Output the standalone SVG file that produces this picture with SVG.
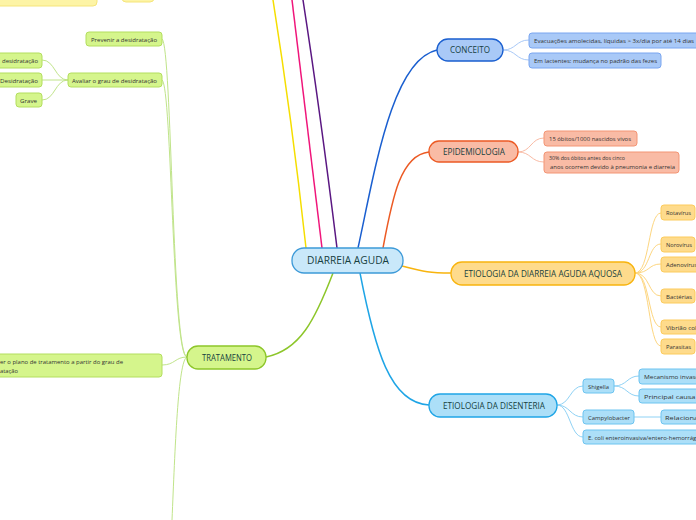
<svg xmlns="http://www.w3.org/2000/svg" width="696" height="520" viewBox="0 0 696 520">
<style>
text{font-family:"Open Sans","Noto Sans","DejaVu Sans",sans-serif;}
.main{font-size:9px;fill:#173f3f;text-anchor:middle;}
.sm{font-size:6px;fill:#333;}
.c{fill:none;stroke-width:1.5;}
.cc{fill:none;stroke-width:1;}
.blue{fill:#a9c9f7;stroke:#1a5fd0;stroke-width:1.3;}
.blueS{fill:#a9c9f7;stroke:#7aa6f0;stroke-width:1;}
.ora{fill:#f9bba5;stroke:#ec5a24;stroke-width:1.3;}
.oraS{fill:#f9bba5;stroke:#f39575;stroke-width:1;}
.yel{fill:#fedb8c;stroke:#f8b40e;stroke-width:1.3;}
.yelS{fill:#fedb8c;stroke:#fccb5c;stroke-width:1;}
.cy{fill:#acdff8;stroke:#1fa5e6;stroke-width:1.3;}
.cyS{fill:#acdff8;stroke:#6cc4f0;stroke-width:1;}
.gr{fill:#d5f58c;stroke:#8dc62a;stroke-width:1.3;}
.grS{fill:#d5f58c;stroke:#b3de5e;stroke-width:1;}
.lem{fill:#fdf4a6;stroke:#f5e57a;stroke-width:1;}
</style>
<rect width="696" height="520" fill="#ffffff"/>
<g id="connectors">
<path class="c" stroke="#f5de00" d="M306,248 Q292,120 273,0"/>
<path class="c" stroke="#f0157a" d="M322,248 Q305,110 292,0"/>
<path class="c" stroke="#5a1782" d="M337,248 Q320,110 303,0"/>
<path class="c" stroke="#1a5fd0" d="M358,248 C375,170 392,60 437,50"/>
<path class="c" stroke="#ec5a24" d="M383,248 C392,200 400,155 429,152"/>
<path class="c" stroke="#f8b40e" d="M402,266 C425,272 430,273 451,273"/>
<path class="c" stroke="#1fa5e6" d="M360,273 C375,350 390,403 429,405"/>
<path class="c" stroke="#8dc62a" d="M333,273 C315,320 300,350 266,357"/>
<g stroke="#a9c9f7" class="cc">
<path d="M503,50 C516,50 516,40 529,40"/>
<path d="M503,50 C516,50 516,60 529,60"/>
</g>
<g stroke="#f9bba5" class="cc">
<path d="M518,152 C531,152 531,138 544,138"/>
<path d="M518,152 C531,152 531,162 544,162"/>
</g>
<g stroke="#fdd680" class="cc">
<path d="M635,273 C650,273 648,213 661,213"/>
<path d="M635,273 C650,273 648,244 661,244"/>
<path d="M635,273 C650,273 648,264 661,264"/>
<path d="M635,273 C650,273 648,296 661,296"/>
<path d="M635,273 C650,273 648,327 661,327"/>
<path d="M635,273 C650,273 648,346 661,346"/>
</g>
<g stroke="#8fd2f5" class="cc">
<path d="M557,405 C570,405 570,386 583,386"/>
<path d="M557,405 C570,405 570,417 583,417"/>
<path d="M557,405 C570,405 570,437 583,437"/>
<path d="M614,386 C627,386 627,376 639,376"/>
<path d="M614,386 C627,386 627,396 639,396"/>
<path d="M634,417 L661,417"/>
</g>
<g stroke="#c0e48a" class="cc">
<path d="M187,357 C172,356 172,45 162,39"/>
<path d="M187,357 C172,356 172,86 162,80"/>
<path d="M187,357 C175,357 175,365 162,365"/>
<path d="M187,357 C178,360 175,450 172,520"/>
<path d="M68,80 C55,80 55,60 42,60"/>
<path d="M68,80 L42,80"/>
<path d="M68,80 C55,80 55,100 42,100"/>
</g>
</g>
<g id="top-yellow-1"><rect class="lem" x="-10" y="-12" width="107" height="18" rx="4"/></g>
<g id="top-yellow-2"><rect class="lem" x="122" y="-14" width="32" height="16" rx="4"/></g>
<g id="diarreia-aguda">
<rect x="292" y="248" width="111" height="25" rx="12" fill="#c9e8fa" stroke="#3d9ad8" stroke-width="1.3"/>
<text class="main" x="348" y="264" font-size="10" textLength="82" lengthAdjust="spacingAndGlyphs" style="font-size:10px">DIARREIA AGUDA</text>
</g>
<g id="conceito">
<rect class="blue" x="437" y="39" width="66" height="22" rx="11"/>
<text class="main" x="470" y="53" textLength="40" lengthAdjust="spacingAndGlyphs">CONCEITO</text>
</g>
<g id="conceito-1"><rect class="blueS" x="529" y="33" width="170" height="15" rx="3"/>
<text class="sm" x="534" y="43" textLength="160" lengthAdjust="spacingAndGlyphs">Evacuações amolecidas, líquidas &gt; 3x/dia por até 14 dias</text></g>
<g id="conceito-2"><rect class="blueS" x="529" y="53" width="132" height="15" rx="3"/>
<text class="sm" x="534" y="63" textLength="123" lengthAdjust="spacingAndGlyphs">Em lactentes: mudança no padrão das fezes</text></g>
<g id="epidemiologia">
<rect class="ora" x="429" y="141" width="89" height="21" rx="10"/>
<text class="main" x="474" y="154.5" textLength="62" lengthAdjust="spacingAndGlyphs">EPIDEMIOLOGIA</text>
</g>
<g id="epi-1"><rect class="oraS" x="544" y="131" width="93" height="15" rx="3"/>
<text class="sm" x="549" y="141" textLength="82" lengthAdjust="spacingAndGlyphs">15 óbitos/1000 nascidos vivos</text></g>
<g id="epi-2"><rect class="oraS" x="544" y="152" width="135" height="21" rx="3"/>
<text class="sm" x="549" y="160" textLength="76" lengthAdjust="spacingAndGlyphs">30% dos óbitos antes dos cinco</text>
<text class="sm" x="550" y="169" textLength="125" lengthAdjust="spacingAndGlyphs">anos ocorrem devido à pneumonia e diarreia</text></g>
<g id="etiologia-aquosa">
<rect class="yel" x="451" y="262" width="184" height="23" rx="11"/>
<text class="main" x="543" y="276.5" textLength="158" lengthAdjust="spacingAndGlyphs">ETIOLOGIA DA DIARREIA AGUDA AQUOSA</text>
</g>
<g id="rotavirus"><rect class="yelS" x="661" y="205" width="34" height="15" rx="3"/>
<text class="sm" x="666" y="215" textLength="25" lengthAdjust="spacingAndGlyphs">Rotavírus</text></g>
<g id="norovirus"><rect class="yelS" x="661" y="237" width="34" height="15" rx="3"/>
<text class="sm" x="666" y="247" textLength="26" lengthAdjust="spacingAndGlyphs">Norovírus</text></g>
<g id="adenovirus"><rect class="yelS" x="661" y="257" width="40" height="15" rx="3"/>
<text class="sm" x="666" y="267" textLength="31" lengthAdjust="spacingAndGlyphs">Adenovírus</text></g>
<g id="bacterias"><rect class="yelS" x="661" y="289" width="34" height="14" rx="3"/>
<text class="sm" x="666" y="298.5" textLength="26" lengthAdjust="spacingAndGlyphs">Bactérias</text></g>
<g id="vibriao"><rect class="yelS" x="661" y="320" width="50" height="14" rx="3"/>
<text class="sm" x="666" y="329.5" textLength="45" lengthAdjust="spacingAndGlyphs">Vibrião colérico</text></g>
<g id="parasitas"><rect class="yelS" x="661" y="339" width="34" height="15" rx="3"/>
<text class="sm" x="666" y="349" textLength="25" lengthAdjust="spacingAndGlyphs">Parasitas</text></g>
<g id="etiologia-disenteria">
<rect class="cy" x="429" y="394" width="128" height="23" rx="11"/>
<text class="main" x="494" y="409" textLength="102" lengthAdjust="spacingAndGlyphs">ETIOLOGIA DA DISENTERIA</text>
</g>
<g id="shigella"><rect class="cyS" x="583" y="379" width="31" height="14" rx="3"/>
<text class="sm" x="588" y="388.5" textLength="21" lengthAdjust="spacingAndGlyphs">Shigella</text></g>
<g id="mecanismo"><rect class="cyS" x="639" y="369" width="70" height="15" rx="3"/>
<text class="sm" x="644" y="379" textLength="58" lengthAdjust="spacingAndGlyphs">Mecanismo invasor</text></g>
<g id="principal"><rect class="cyS" x="639" y="389" width="70" height="14" rx="3"/>
<text class="sm" x="644" y="398.5" textLength="62" lengthAdjust="spacingAndGlyphs">Principal causa de</text></g>
<g id="campylobacter"><rect class="cyS" x="583" y="410" width="51" height="14" rx="3"/>
<text class="sm" x="588" y="419.5" textLength="42" lengthAdjust="spacingAndGlyphs">Campylobacter</text></g>
<g id="relacionado"><rect class="cyS" x="661" y="410" width="50" height="14" rx="3"/>
<text class="sm" x="665" y="419.5" textLength="42" lengthAdjust="spacingAndGlyphs">Relacionado</text></g>
<g id="ecoli"><rect class="cyS" x="583" y="430" width="125" height="14" rx="3"/>
<text class="sm" x="588" y="439.5" textLength="116" lengthAdjust="spacingAndGlyphs">E. coli enteroinvasiva/entero-hemorrágica</text></g>
<g id="tratamento">
<rect class="gr" x="187" y="346" width="79" height="23" rx="11"/>
<text class="main" x="227" y="360.5" textLength="50" lengthAdjust="spacingAndGlyphs">TRATAMENTO</text>
</g>
<g id="plano"><rect class="grS" x="-10" y="354" width="172" height="23" rx="3"/>
<text class="sm" x="0" y="363.5" textLength="123" lengthAdjust="spacingAndGlyphs">er o plano de tratamento a partir do grau de</text>
<text class="sm" x="0" y="372.5" textLength="18" lengthAdjust="spacingAndGlyphs">atação</text></g>
<g id="prevenir"><rect class="grS" x="86" y="32" width="76" height="14" rx="3"/>
<text class="sm" x="91" y="41.5" textLength="66" lengthAdjust="spacingAndGlyphs">Prevenir a desidratação</text></g>
<g id="avaliar"><rect class="grS" x="68" y="73" width="94" height="14" rx="3"/>
<text class="sm" x="72" y="82.5" textLength="85" lengthAdjust="spacingAndGlyphs">Avaliar o grau de desidratação</text></g>
<g id="sem-desidratacao"><rect class="grS" x="-10" y="53" width="52" height="15" rx="3"/>
<text class="sm" x="2" y="63" textLength="36" lengthAdjust="spacingAndGlyphs">desidratação</text></g>
<g id="desidratacao"><rect class="grS" x="-10" y="73" width="52" height="14" rx="3"/>
<text class="sm" x="0" y="82.5" textLength="38" lengthAdjust="spacingAndGlyphs">Desidratação</text></g>
<g id="grave"><rect class="grS" x="16" y="93" width="26" height="14" rx="3"/>
<text class="sm" x="20" y="102.5" textLength="17" lengthAdjust="spacingAndGlyphs">Grave</text></g>
</svg>
